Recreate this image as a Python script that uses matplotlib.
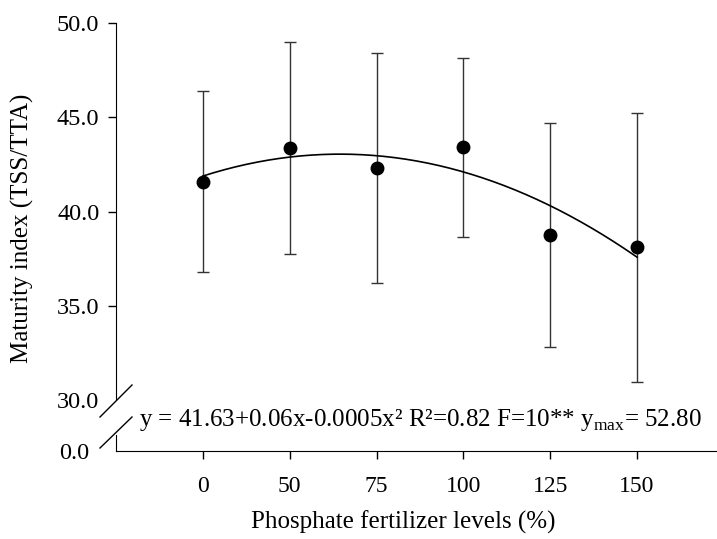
import numpy as np
import matplotlib
matplotlib.use("Agg")
import matplotlib.pyplot as plt
from matplotlib.lines import Line2D

plt.rcParams["font.family"] = ["Liberation Serif", "DejaVu Serif"]
plt.rcParams["mathtext.fontset"] = "custom"
plt.rcParams["mathtext.rm"] = "Liberation Serif"

# data
levels = ["0", "50", "75", "100", "125", "150"]
means = [41.57, 43.35, 42.29, 43.42, 38.76, 38.10]
err_up = [46.41, 49.00, 48.40, 48.14, 44.71, 45.23]
err_low = [36.79, 37.73, 36.22, 38.65, 32.82, 30.95]
# quadratic trend as drawn, over category position
curve_coef = [-0.467, 1.474, 41.88]
equation = r"y = 41.63+0.06x-0.0005x² R²=0.82 F=10** y$_{\mathrm{max}}$= 52.80"

pos = np.arange(len(levels))
means = np.array(means)
yerr = [means - np.array(err_low), np.array(err_up) - means]

W, H = 717, 539
fig = plt.figure(figsize=(W / 100, H / 100), dpi=100)

x0 = 116 / W
ax = fig.add_axes([x0, 1 - 400 / H, 1 - x0, (400 - 23) / H])
axb = fig.add_axes([x0, 1 - 451 / H, 1 - x0, (451 - 400) / H])

for a in (ax, axb):
    a.set_xlim(-1, 5.92)
    a.spines["top"].set_visible(False)
    a.spines["right"].set_visible(False)
    a.patch.set_alpha(0)

# upper part
ax.errorbar(pos, means, yerr=yerr, fmt="none", ecolor="#333333",
            elinewidth=1, capsize=4.5, capthick=1)
t = np.linspace(0, 5, 200)
ax.plot(t, np.polyval(curve_coef, t), color="black", lw=1.2)
ax.plot(pos, means, "o", color="black", markersize=9)
ax.set_ylim(30, 50)
ax.set_yticks([30, 35, 40, 45, 50])
ax.set_yticklabels(["30.0", "35.0", "40.0", "45.0", "50.0"])
ax.yaxis.get_major_ticks()[0].tick1line.set_visible(False)
ax.spines["bottom"].set_visible(False)
ax.set_xticks([])
ax.tick_params(axis="y", labelsize=17.5, length=6, width=1, pad=6)

# lower part
axb.set_ylim(0, 1)
axb.spines["left"].set_bounds(0, 0.31)
axb.set_yticks([0])
axb.set_yticklabels(["0.0"])
axb.set_xticks(pos)
axb.set_xticklabels(levels)
axb.tick_params(axis="y", labelsize=17.5, length=0, pad=19)
axb.tick_params(axis="x", labelsize=17, length=6, width=1, pad=12)
axb.text(143 / W - x0, 0.60, equation, transform=axb.transAxes,
         fontsize=18, va="center", ha="left")

fig.text(403 / W, 1 - 522 / H, "Phosphate fertilizer levels (%)",
         fontsize=18, ha="center", va="center")
fig.text(22 / W, 1 - 228 / H, "Maturity index (TSS/TTA)", rotation=90,
         fontsize=18, ha="center", va="center")

# axis break marks
for (xa, ya, xb, yb) in [(100, 417, 132, 385), (100, 448, 132, 417)]:
    fig.add_artist(Line2D([xa / W, xb / W], [1 - ya / H, 1 - yb / H],
                          transform=fig.transFigure, color="black", lw=1))

fig.savefig("out.png", dpi=100)
